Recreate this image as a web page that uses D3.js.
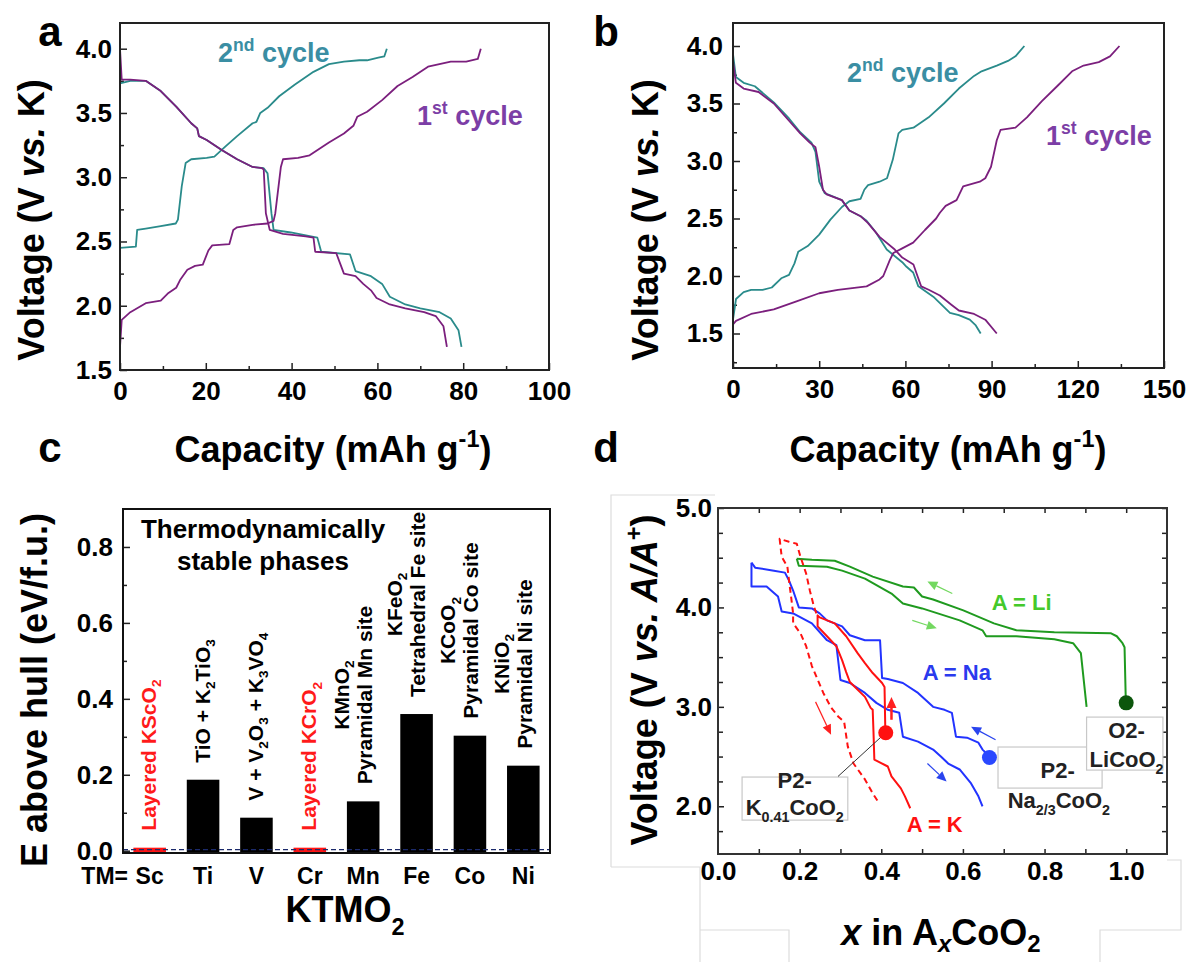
<!DOCTYPE html>
<html>
<head>
<meta charset="utf-8">
<script src="https://cdn.jsdelivr.net/npm/d3@7"></script>
<style>
  body { margin: 0; background: #fff; }
  svg { display: block; }
</style>
</head>
<body>
<svg id="fig" width="1193" height="962"></svg>
<script>
const FONT = "'Liberation Sans', Arial, Helvetica, sans-serif";

// ---------- panel a : [capacity mAh/g, voltage V] ----------
const aCharge1 = [[0,1.68],[0.4,1.89],[2.4,1.95],[6,2.02],[9.5,2.04],[11.3,2.10],[13.1,2.14],[14,2.2],[15.7,2.28],[17.5,2.31],[19.3,2.32],[20.6,2.43],[21.5,2.47],[25.5,2.48],[26.4,2.59],[27.3,2.61],[30.9,2.63],[34.4,2.64],[35.8,2.66],[36.2,2.72],[37.5,3.08],[38,3.14],[41.5,3.15],[44.2,3.17],[48.7,3.27],[52.2,3.34],[54.4,3.40],[55.3,3.47],[57.6,3.51],[61.1,3.60],[64.7,3.71],[68.2,3.78],[71.8,3.86],[77.1,3.90],[80.7,3.90],[83.4,3.92],[84.1,4.0]];
const aDischarge1 = [[0,4.0],[0.4,3.76],[2.4,3.76],[6,3.75],[9.5,3.67],[13.1,3.55],[16.6,3.42],[18,3.38],[18.4,3.32],[20.2,3.29],[23.8,3.21],[27.3,3.14],[30.9,3.08],[33.1,3.07],[33.5,3.06],[34,2.72],[34.9,2.59],[38,2.56],[43.3,2.54],[45.1,2.53],[45.5,2.42],[50.4,2.41],[51.3,2.33],[52.2,2.25],[54.9,2.23],[56.7,2.17],[58.5,2.12],[59.8,2.06],[62.9,2.01],[66.5,1.98],[70.9,1.95],[73.6,1.92],[75.4,1.84],[76.2,1.68]];
const aCharge2 = [[0,2.45],[3.7,2.46],[4.0,2.59],[6,2.60],[9.5,2.62],[13,2.64],[13.5,2.67],[14.4,2.93],[15.3,3.11],[16.6,3.14],[20.2,3.15],[22,3.16],[24.6,3.24],[27.3,3.32],[30.9,3.42],[31.8,3.43],[32.7,3.5],[34.4,3.54],[37.1,3.63],[40.7,3.72],[45.1,3.82],[48.7,3.88],[52.2,3.90],[55.8,3.91],[57.6,3.91],[60.2,3.93],[61.6,3.94],[62.2,4.0]];
const aDischarge2 = [[0,3.73],[2.4,3.75],[6,3.75],[9.5,3.67],[13.1,3.55],[16.6,3.42],[18,3.38],[18.4,3.32],[20.2,3.29],[23.8,3.21],[27.3,3.14],[30.9,3.08],[33.5,3.07],[34.4,3.03],[35.3,2.72],[35.8,2.59],[39.8,2.57],[46,2.53],[46.9,2.42],[53.6,2.40],[54.9,2.27],[58.5,2.23],[61.1,2.17],[62.9,2.07],[66.5,2.01],[70,1.98],[74.5,1.95],[77.1,1.90],[78.9,1.81],[79.6,1.68]];

// ---------- panel b ----------
const bCharge1 = [[0,1.58],[1.05,1.61],[6.3,1.67],[14.2,1.71],[22.1,1.78],[30,1.85],[36.5,1.88],[46.5,1.91],[51,1.97],[52.3,2.0],[54.6,2.14],[55.8,2.2],[58.9,2.24],[62.7,2.29],[66.8,2.40],[70.7,2.50],[72,2.55],[74,2.61],[77.8,2.66],[80.1,2.78],[85.9,2.82],[87.8,2.85],[89.8,2.95],[91.8,3.18],[93.1,3.27],[98.3,3.29],[102.3,3.38],[107.5,3.52],[112.8,3.65],[118,3.78],[122,3.83],[127.3,3.86],[131.2,3.91],[134.5,4.0]];
const bDischarge1 = [[0,3.87],[1,3.68],[3.7,3.63],[8.9,3.60],[14.2,3.50],[19.5,3.35],[23.4,3.24],[26.7,3.16],[28.7,3.12],[30,2.95],[31.3,2.75],[32.6,2.71],[37.9,2.66],[40.5,2.57],[44.4,2.52],[47,2.46],[51,2.34],[56.3,2.23],[58.9,2.16],[62.8,2.10],[64.2,2.0],[65.5,1.91],[68.1,1.88],[72,1.83],[76,1.75],[78.6,1.70],[83.9,1.67],[87.8,1.62],[91.8,1.5]];
const bCharge2 = [[0,1.62],[1.05,1.80],[3.7,1.86],[6.3,1.88],[10.3,1.88],[13.5,1.90],[16.8,1.98],[19.5,2.01],[21.4,2.11],[22.7,2.21],[26,2.26],[30,2.36],[33.9,2.49],[37.9,2.60],[40.5,2.65],[44.4,2.67],[45.7,2.75],[47,2.79],[51,2.82],[53.6,2.85],[55.6,3.01],[57.6,3.24],[58.9,3.27],[62.8,3.29],[68.1,3.38],[73.4,3.50],[78.6,3.63],[83.9,3.74],[86.5,3.78],[91.8,3.83],[95.7,3.87],[98.3,3.91],[101.4,4.0]];
const bDischarge2 = [[0,3.93],[1,3.73],[3.7,3.68],[7.6,3.65],[14.2,3.51],[19.5,3.37],[23.4,3.25],[27.3,3.16],[28.7,3.08],[30,2.82],[31.9,2.72],[37.9,2.66],[40.5,2.57],[44.4,2.52],[46.5,2.48],[49.7,2.38],[53.5,2.23],[58.9,2.12],[60.4,2.08],[62.7,2.03],[64.5,1.91],[69.7,1.82],[75.5,1.68],[78.6,1.66],[82.4,1.62],[84.5,1.57],[86.2,1.5]];

// ---------- panel c ----------
const tmNames = ["Sc", "Ti", "V", "Cr", "Mn", "Fe", "Co", "Ni"];
const eHull = [0.008, 0.187, 0.087, 0.008, 0.13, 0.36, 0.303, 0.224];
const stableTM = ["Sc", "Cr"];
const phaseLabels = [
  ["Layered KScO_2"],
  ["TiO + K_2TiO_3"],
  ["V + V_2O_3 + K_3VO_4"],
  ["Layered KCrO_2"],
  ["KMnO_2", "Pyramidal Mn site"],
  ["KFeO_2", "Tetrahedral Fe site"],
  ["KCoO_2", "Pyramidal Co site"],
  ["KNiO_2", "Pyramidal Ni site"]
];

// ---------- panel d : [x in AxCoO2, voltage vs A/A+] ----------
const liUpper = [[0.193,4.49],[0.23,4.48],[0.286,4.47],[0.323,4.41],[0.379,4.31],[0.453,4.21],[0.48,4.2],[0.5,4.11],[0.527,4.08],[0.601,3.97],[0.676,3.84],[0.731,3.77],[0.824,3.75],[0.963,3.74],[0.977,3.71],[0.991,3.64],[0.996,3.6],[0.999,3.07]];
const liLower = [[0.193,4.49],[0.198,4.42],[0.267,4.41],[0.304,4.37],[0.36,4.29],[0.425,4.14],[0.453,4.04],[0.5,3.99],[0.592,3.87],[0.648,3.77],[0.657,3.71],[0.731,3.71],[0.824,3.68],[0.87,3.64],[0.889,3.54],[0.903,3.0]];
const naUpper = [[0.082,4.45],[0.091,4.40],[0.137,4.37],[0.164,4.35],[0.174,4.27],[0.184,4.17],[0.198,4.0],[0.23,3.99],[0.249,3.94],[0.267,3.87],[0.304,3.81],[0.323,3.72],[0.36,3.67],[0.397,3.67],[0.402,3.29],[0.416,3.28],[0.453,3.24],[0.49,3.14],[0.527,3.0],[0.555,2.97],[0.573,2.94],[0.583,2.70],[0.61,2.69],[0.638,2.64],[0.648,2.57],[0.666,2.50]];
const naLower = [[0.082,4.45],[0.082,4.21],[0.119,4.21],[0.147,4.11],[0.156,3.96],[0.184,3.94],[0.23,3.84],[0.267,3.67],[0.29,3.62],[0.3,3.27],[0.323,3.24],[0.36,3.14],[0.388,3.04],[0.416,2.97],[0.444,2.94],[0.453,2.70],[0.49,2.65],[0.527,2.57],[0.546,2.5],[0.564,2.43],[0.592,2.37],[0.62,2.23],[0.638,2.1],[0.648,2.0]];
const kCycle = [[0.41,2.74],[0.408,3.2],[0.402,3.24],[0.379,3.34],[0.36,3.44],[0.342,3.54],[0.314,3.71],[0.286,3.84],[0.249,3.90],[0.244,3.92],[0.244,3.81],[0.267,3.71],[0.29,3.61],[0.304,3.47],[0.314,3.35],[0.323,3.25],[0.36,3.10],[0.374,2.99],[0.379,2.97],[0.381,2.74],[0.383,2.47],[0.416,2.40],[0.425,2.30],[0.448,2.18],[0.458,2.10],[0.471,1.98]];
const kFirst = [[0.241,3.94],[0.235,4.01],[0.225,4.17],[0.216,4.34],[0.202,4.51],[0.193,4.64],[0.174,4.66],[0.151,4.69],[0.156,4.51],[0.17,4.41],[0.174,4.27],[0.179,4.11],[0.184,3.94],[0.184,3.84],[0.202,3.74],[0.216,3.61],[0.23,3.41],[0.258,3.14],[0.276,3.0],[0.295,2.9],[0.309,2.85],[0.318,2.6],[0.332,2.43],[0.36,2.27],[0.379,2.13],[0.395,2.03]];
const startX = [1.0, 0.665, 0.411];
const startV = [3.04, 2.49, 2.74];
const arrowsD = [
  { from: [0.574, 4.14], to: [0.513, 4.26], ion: "Li" },
  { from: [0.476, 3.87], to: [0.536, 3.79], ion: "Li" },
  { from: [0.68, 2.67], to: [0.62, 2.80], ion: "Na" },
  { from: [0.513, 2.43], to: [0.56, 2.25], ion: "Na" },
  { from: [0.239, 3.05], to: [0.277, 2.72], ion: "K" },
  { from: [0.425, 2.87], to: [0.425, 3.10], ion: "K" }
];

const svg = d3.select("#fig").attr("font-family", FONT);

// text with _x / _{..} subscripts, ^x / ^{..} superscripts, *..* italics
function rich(sel, str, fs, subShift) {
  const re = /_\{([^}]*)\}|_(.)|\^\{([^}]*)\}|\^(.)|\*([^*]+)\*|([^_^*]+)/g;
  let m, shift = 0;
  const sub = subShift == null ? 0.28 : subShift;
  while ((m = re.exec(str))) {
    let t, dy = 0, small = false, italic = false;
    if (m[1] != null || m[2] != null) { t = m[1] != null ? m[1] : m[2]; dy = sub * fs; small = true; }
    else if (m[3] != null || m[4] != null) { t = m[3] != null ? m[3] : m[4]; dy = -0.42 * fs; small = true; }
    else if (m[5] != null) { t = m[5]; italic = true; }
    else t = m[6];
    const ts = sel.append("tspan").text(t);
    if (dy - shift !== 0) ts.attr("dy", dy - shift);
    shift = dy;
    if (small) ts.attr("font-size", fs * 0.65);
    if (italic) ts.attr("font-style", "italic");
  }
  return sel;
}

function label(str, x, y, opts) {
  opts = opts || {};
  const fs = opts.size || 36;
  const t = svg.append("text")
    .attr("font-size", fs)
    .attr("font-weight", opts.weight || "bold")
    .attr("fill", opts.color || "#000")
    .attr("text-anchor", opts.anchor || "middle");
  if (opts.rotate) t.attr("transform", `translate(${x},${y}) rotate(-90)`);
  else t.attr("x", x).attr("y", y);
  return rich(t, str, fs, opts.sub);
}

function styleAxis(a, fs) {
  a.select(".domain").remove();
  a.attr("font-family", FONT).attr("font-size", fs || 26).attr("font-weight", "bold");
  a.selectAll("line").attr("stroke", "#222").attr("stroke-width", 1.5);
  a.selectAll("text").attr("fill", "#000");
}

function frame(g, x0, y0, x1, y1, color) {
  g.append("rect").attr("x", x0).attr("y", y0).attr("width", x1 - x0).attr("height", y1 - y0)
    .attr("fill", "none").attr("stroke", color || "#222").attr("stroke-width", 2);
}

const TEAL = "#2a8b8b", PURPLE = "#7b1f7d";
const TEAL_TXT = "#3a8ea3", PURPLE_TXT = "#7c3ea6";

function cyclePanel(p) {
  const x = d3.scaleLinear().domain(p.xDomain).range([p.left, p.right]);
  const y = d3.scaleLinear().domain(p.yDomain).range([p.bottom, p.top]);
  const g = svg.append("g");

  g.append("g").attr("transform", `translate(0,${p.bottom})`)
    .call(d3.axisBottom(x).tickValues(p.xMajor).tickSize(-7).tickPadding(12).tickFormat(d3.format("d")))
    .call(a => styleAxis(a));
  g.append("g").attr("transform", `translate(0,${p.bottom})`)
    .call(d3.axisBottom(x).tickValues(p.xMinor).tickSize(-4).tickFormat(""))
    .call(a => styleAxis(a));
  g.append("g").attr("transform", `translate(${p.left},0)`)
    .call(d3.axisLeft(y).tickValues(p.yMajor).tickSize(-7).tickPadding(p.yPad).tickFormat(d3.format(".1f")))
    .call(a => styleAxis(a));
  g.append("g").attr("transform", `translate(${p.left},0)`)
    .call(d3.axisLeft(y).tickValues(p.yMinor).tickSize(-4).tickFormat(""))
    .call(a => styleAxis(a));

  const line = d3.line().x(d => x(d[0])).y(d => y(d[1]));
  p.series.forEach(s => {
    g.append("path").datum(s.data).attr("d", line)
      .attr("fill", "none").attr("stroke", s.color).attr("stroke-width", 1.8)
      .attr("stroke-linejoin", "round");
  });
  frame(g, p.left, p.top, p.right, p.bottom);
}

// ----- panel a -----
cyclePanel({
  left: 120, right: 549, top: 23, bottom: 370,
  xDomain: [0, 100], yDomain: [1.5, 4.2],
  xMajor: d3.range(0, 101, 20), xMinor: d3.range(10, 100, 20),
  yMajor: [1.5, 2.0, 2.5, 3.0, 3.5, 4.0], yMinor: [1.75, 2.25, 2.75, 3.25, 3.75], yPad: 8,
  series: [
    { data: aCharge2, color: TEAL }, { data: aDischarge2, color: TEAL },
    { data: aCharge1, color: PURPLE }, { data: aDischarge1, color: PURPLE }
  ]
});
label("a", 50, 46, { size: 42 });
label("Voltage (V *vs.* K)", 44, 220, { rotate: true, size: 36 });
label("Capacity (mAh g^{-1})", 333, 462, { size: 36 });
label("2^{nd} cycle", 218, 62, { size: 27, anchor: "start", color: TEAL_TXT });
label("1^{st} cycle", 417, 125, { size: 27, anchor: "start", color: PURPLE_TXT });

// ----- panel b -----
cyclePanel({
  left: 733, right: 1164, top: 23, bottom: 368,
  xDomain: [0, 150], yDomain: [1.2, 4.2],
  xMajor: d3.range(0, 151, 30), xMinor: d3.range(15, 150, 30),
  yMajor: [1.5, 2.0, 2.5, 3.0, 3.5, 4.0], yMinor: [1.25, 1.75, 2.25, 2.75, 3.25, 3.75], yPad: 10,
  series: [
    { data: bCharge2, color: TEAL }, { data: bDischarge2, color: TEAL },
    { data: bCharge1, color: PURPLE }, { data: bDischarge1, color: PURPLE }
  ]
});
label("b", 606, 46, { size: 42 });
label("Voltage (V *vs.* K)", 658, 220, { rotate: true, size: 36 });
label("Capacity (mAh g^{-1})", 948, 462, { size: 36 });
label("2^{nd} cycle", 847, 82, { size: 27, anchor: "start", color: TEAL_TXT });
label("1^{st} cycle", 1046, 145, { size: 27, anchor: "start", color: PURPLE_TXT });

// ----- panel c -----
(function () {
  const left = 123, right = 550, top = 509, bottom = 853;
  const x = d3.scaleBand().domain(tmNames).range([left, right]).paddingInner(0.39).paddingOuter(0.195);
  const y = d3.scaleLinear().domain([-0.006, 0.9]).range([bottom, top]);
  const g = svg.append("g");

  g.append("g").attr("transform", `translate(${left},0)`)
    .call(d3.axisLeft(y).tickValues([0, 0.2, 0.4, 0.6, 0.8]).tickSize(-7).tickPadding(10).tickFormat(d3.format(".1f")))
    .call(a => styleAxis(a));
  g.append("g").attr("transform", `translate(${left},0)`)
    .call(d3.axisLeft(y).tickValues([0.1, 0.3, 0.5, 0.7]).tickSize(-4).tickFormat(""))
    .call(a => styleAxis(a));

  g.selectAll("rect.bar").data(tmNames).join("rect").attr("class", "bar")
    .attr("x", d => x(d))
    .attr("width", x.bandwidth())
    .attr("y", (d, i) => y(eHull[i]))
    .attr("height", (d, i) => y(y.domain()[0]) - y(eHull[i]))
    .attr("fill", d => stableTM.includes(d) ? "#ff1414" : "#000");

  g.append("line").attr("x1", left).attr("x2", right).attr("y1", y(0.003)).attr("y2", y(0.003))
    .attr("stroke", "#1b2a6b").attr("stroke-width", 1.3).attr("stroke-dasharray", "5,3");

  // category labels
  g.selectAll("text.tm").data(tmNames).join("text").attr("class", "tm")
    .attr("x", d => x(d) + x.bandwidth() / 2).attr("y", 884)
    .attr("text-anchor", "middle").attr("font-size", 23).attr("font-weight", "bold")
    .text(d => d);
  g.append("text").attr("x", 128).attr("y", 884).attr("text-anchor", "end")
    .attr("font-size", 23).attr("font-weight", "bold").text("TM=");

  // rotated phase labels above each bar
  const fs = 21;
  phaseLabels.forEach((lines, i) => {
    const cx = x(tmNames[i]) + x.bandwidth() / 2;
    const offs = lines.length === 1 ? [1] : [-20, 3];
    const color = stableTM.includes(tmNames[i]) ? "#ff1a1a" : "#000";
    const texts = lines.map((str, j) => {
      const t = g.append("text").attr("font-size", fs).attr("font-weight", "bold")
        .attr("fill", color).attr("text-anchor", "middle");
      rich(t, str, fs, 0.25);
      t.datum(cx + offs[j] + 5.5);
      return t;
    });
    const maxLen = d3.max(texts, t => t.node().getComputedTextLength());
    const cy = y(eHull[i]) - 17 - maxLen / 2;
    texts.forEach(t => t.attr("transform", `translate(${t.datum()},${cy}) rotate(-90)`));
  });

  frame(g, left, top, right, bottom, "#111");

  g.append("text").attr("x", 263).attr("y", 538).attr("text-anchor", "middle")
    .attr("font-size", 26).attr("font-weight", "bold").text("Thermodynamically");
  g.append("text").attr("x", 263).attr("y", 570).attr("text-anchor", "middle")
    .attr("font-size", 26).attr("font-weight", "bold").text("stable phases");
})();
label("c", 50, 462, { size: 42 });
label("E above hull (eV/f.u.)", 47, 690, { rotate: true, size: 36 });
label("KTMO_2", 345, 922, { size: 36, sub: 0.36 });

// ----- panel d -----
(function () {
  const left = 718, right = 1167, top = 508, bottom = 854;
  const x = d3.scaleLinear().domain([0, 1.1]).range([left, right]);
  const y = d3.scaleLinear().domain([1.52, 5.0]).range([bottom, top]);
  const g = svg.append("g");

  // faint outlines of the pasted image pieces
  g.append("path")
    .attr("d", `M611,867 V495 H715 M700,962 V867 H611 M700,930 H789 V962 M1100,962 V930 H1181 V860 H1167`)
    .attr("fill", "none").attr("stroke", "#dcdcdc").attr("stroke-width", 1.2);

  const yMinor = [1.75, 2.25, 2.5, 2.75, 3.25, 3.5, 3.75, 4.25, 4.5, 4.75];
  const xAll = d3.range(1, 11).map(i => i / 10);
  g.append("g").attr("transform", `translate(${left},0)`)
    .call(d3.axisLeft(y).tickValues([2, 3, 4, 5]).tickSize(-6).tickPadding(6).tickFormat(d3.format(".1f")))
    .call(a => styleAxis(a));
  g.append("g").attr("transform", `translate(${left},0)`)
    .call(d3.axisLeft(y).tickValues(yMinor).tickSize(-5).tickFormat(""))
    .call(a => styleAxis(a));
  g.append("g").attr("transform", `translate(${right},0)`)
    .call(d3.axisRight(y).tickValues([2, 3, 4, 5].concat(yMinor)).tickSize(-5).tickFormat(""))
    .call(a => styleAxis(a));
  g.append("g").attr("transform", `translate(0,${top})`)
    .call(d3.axisTop(x).tickValues(xAll).tickSize(-5).tickFormat(""))
    .call(a => styleAxis(a));
  g.append("g").attr("transform", `translate(0,${bottom})`)
    .call(d3.axisBottom(x).tickValues(xAll).tickSize(-5).tickFormat(""))
    .call(a => styleAxis(a));
  g.append("g").attr("transform", `translate(0,${bottom})`)
    .call(d3.axisBottom(x).tickValues([0, 0.2, 0.4, 0.6, 0.8, 1.0]).tickSize(0).tickPadding(8).tickFormat(d3.format(".1f")))
    .call(a => styleAxis(a));

  const ionColor = { Li: "#1f9a1f", Na: "#2233ff", K: "#ff1111" };
  const arrowColor = { Li: "#73d860", Na: "#2a44ee", K: "#ff2020" };
  const dotColor = ["#0c560c", "#2a48ff", "#ff1111"];
  const line = d3.line().x(d => x(d[0])).y(d => y(d[1]));
  const curves = [
    { data: liUpper, ion: "Li" }, { data: liLower, ion: "Li" },
    { data: naUpper, ion: "Na" }, { data: naLower, ion: "Na" },
    { data: kCycle, ion: "K" }, { data: kFirst, ion: "K", dash: "6,4" }
  ];
  curves.forEach(c => {
    g.append("path").datum(c.data).attr("d", line).attr("fill", "none")
      .attr("stroke", ionColor[c.ion]).attr("stroke-width", 2)
      .attr("stroke-linejoin", "round")
      .attr("stroke-dasharray", c.dash || null);
  });

  // arrows
  arrowsD.forEach((a, i) => {
    const x1 = x(a.from[0]), y1 = y(a.from[1]), x2 = x(a.to[0]), y2 = y(a.to[1]);
    const ang = Math.atan2(y2 - y1, x2 - x1);
    const thick = i === 5;
    const hl = thick ? 11 : 10, hw = thick ? 5 : 4.5;
    const bx = x2 - hl * Math.cos(ang), by = y2 - hl * Math.sin(ang);
    g.append("line").attr("x1", x1).attr("y1", y1).attr("x2", bx).attr("y2", by)
      .attr("stroke", arrowColor[a.ion]).attr("stroke-width", thick ? 2.5 : 1.2);
    g.append("path")
      .attr("d", `M${x2},${y2} L${bx + hw * Math.sin(ang)},${by - hw * Math.cos(ang)} L${bx - hw * Math.sin(ang)},${by + hw * Math.cos(ang)} Z`)
      .attr("fill", arrowColor[a.ion]);
  });

  // callout boxes
  const boxStyle = s => s.attr("fill", "#fff").attr("stroke", "#c8c8c8").attr("stroke-width", 1.2);
  g.append("rect").call(boxStyle).attr("x", x(0.059)).attr("y", y(2.294))
    .attr("width", x(0.318) - x(0.059)).attr("height", y(1.861) - y(2.294));
  g.append("rect").call(boxStyle).attr("x", x(0.686)).attr("y", y(2.596))
    .attr("width", x(0.941) - x(0.686)).attr("height", y(2.183) - y(2.596));
  g.append("rect").call(boxStyle).attr("x", x(0.903)).attr("y", y(2.897))
    .attr("width", x(1.09) - x(0.903)).attr("height", y(2.364) - y(2.897));

  g.append("line").attr("x1", x(0.294)).attr("y1", y(2.30)).attr("x2", x(startX[2])).attr("y2", y(startV[2]))
    .attr("stroke", "#333").attr("stroke-width", 1);

  g.selectAll("circle.start").data(startX).join("circle").attr("class", "start")
    .attr("cx", d => x(d)).attr("cy", (d, i) => y(startV[i])).attr("r", 7.5)
    .attr("fill", (d, i) => dotColor[i]);

  const ann = (str, dx, dv, color) => {
    const t = g.append("text").attr("x", x(dx)).attr("y", y(dv)).attr("text-anchor", "middle")
      .attr("font-size", 22).attr("font-weight", "bold").attr("fill", color);
    rich(t, str, 22, 0.3);
  };
  ann("P2-", 0.188, 2.183, "#222");
  ann("K_{0.41}CoO_2", 0.188, 1.911, "#222");
  ann("P2-", 0.832, 2.284, "#222");
  ann("Na_{2/3}CoO_2", 0.835, 1.982, "#222");
  ann("O2-", 1.001, 2.686, "#222");
  ann("LiCoO_2", 1.001, 2.394, "#222");
  ann("A = Li", 0.744, 3.974, "#44c92a");
  ann("A = Na", 0.585, 3.27, "#2a3aee");
  ann("A = K", 0.531, 1.74, "#ff1111");

  frame(g, left, top, right, bottom, "#333");
})();
label("d", 606, 462, { size: 42 });
label("Voltage (V *vs.* *A/A*^+)", 657, 680, { rotate: true, size: 36 });
(function () {
  const t = svg.append("text").attr("x", 941).attr("y", 945).attr("text-anchor", "middle")
    .attr("font-size", 36).attr("font-weight", "bold");
  t.append("tspan").attr("font-style", "italic").text("x");
  t.append("tspan").text(" in A");
  t.append("tspan").attr("font-style", "italic").attr("font-size", 24).attr("dy", 7).text("x");
  t.append("tspan").attr("dy", -7).text("CoO");
  t.append("tspan").attr("font-size", 24).attr("dy", 7).text("2");
})();
</script>
</body>
</html>
